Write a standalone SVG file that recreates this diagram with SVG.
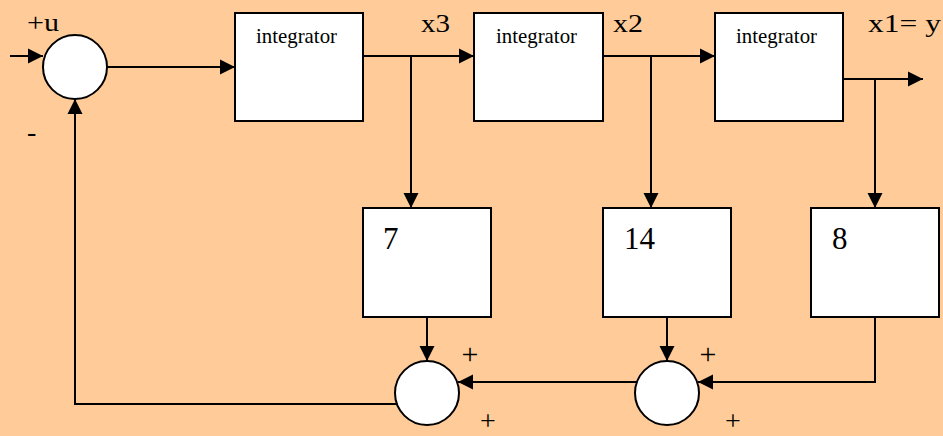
<svg xmlns="http://www.w3.org/2000/svg" width="943" height="436" viewBox="0 0 943 436">
  <style>
    .blk { fill: #ffffff; stroke: #000000; stroke-width: 2; }
    .sum { fill: #ffffff; stroke: #000000; stroke-width: 2; }
    .wire { fill: none; stroke: #000000; stroke-width: 2; }
    .arr { marker-end: url(#head); }
    text { font-family: "Liberation Serif", "Times New Roman", serif; fill: #000000; }
    .lbl { font-size: 21px; }
    .sig { font-size: 25px; }
    .gain { font-size: 31px; }
    .sign { font-size: 30px; text-anchor: middle; }
    .sign-low { font-size: 28px; text-anchor: middle; }
  </style>
  <defs>
    <marker id="head" markerUnits="userSpaceOnUse" markerWidth="16" markerHeight="16" viewBox="0 0 16 16" refX="15" refY="8" orient="auto">
      <path d="M0,0.5 L15,8 L0,15.5 Z" fill="#000000"/>
    </marker>
  </defs>

  <rect x="0" y="0" width="943" height="436" fill="#ffcc99"/>

  <!-- signal lines -->
  <g id="connectors">
    <path class="wire arr" d="M10,56 H43"/>
    <path class="wire arr" d="M107,67 H235"/>
    <path class="wire arr" d="M363,56 H474"/>
    <path class="wire arr" d="M411,56 V208"/>
    <path class="wire arr" d="M603,56 H715"/>
    <path class="wire arr" d="M651,56 V208"/>
    <path class="wire arr" d="M843,79 H923"/>
    <path class="wire arr" d="M875,79 V208"/>
    <path class="wire arr" d="M427,317 V361"/>
    <path class="wire arr" d="M667,317 V361"/>
    <path class="wire arr" d="M875,317 V382 H698"/>
    <path class="wire arr" d="M637,382 H458"/>
    <path class="wire arr" d="M397,404 H75 V99"/>
  </g>

  <!-- input summing junction -->
  <g id="sum-in">
    <circle class="sum" cx="75" cy="67" r="32"/>
    <text class="sig" x="27" y="31" textLength="32" lengthAdjust="spacingAndGlyphs">+u</text>
    <text x="27" y="141" style="font-size:28px">-</text>
  </g>

  <!-- integrator chain -->
  <g id="int1">
    <rect class="blk" x="235" y="13" width="128" height="108"/>
    <text class="lbl" x="256" y="43" textLength="81" lengthAdjust="spacingAndGlyphs">integrator</text>
  </g>
  <g id="int2">
    <rect class="blk" x="474" y="13" width="129" height="108"/>
    <text class="lbl" x="496" y="43" textLength="81" lengthAdjust="spacingAndGlyphs">integrator</text>
  </g>
  <g id="int3">
    <rect class="blk" x="715" y="13" width="128" height="108"/>
    <text class="lbl" x="736" y="43" textLength="81" lengthAdjust="spacingAndGlyphs">integrator</text>
  </g>

  <!-- state labels -->
  <g id="state-labels">
    <text class="sig" x="421" y="32" textLength="29" lengthAdjust="spacingAndGlyphs">x3</text>
    <text class="sig" x="613" y="32" textLength="30" lengthAdjust="spacingAndGlyphs">x2</text>
    <text class="sig" x="868" y="32" textLength="73" lengthAdjust="spacingAndGlyphs">x1= y</text>
  </g>

  <!-- feedback gains -->
  <g id="gain7">
    <rect class="blk" x="363" y="208" width="128" height="109"/>
    <text class="gain" x="383" y="249">7</text>
  </g>
  <g id="gain14">
    <rect class="blk" x="603" y="208" width="128" height="109"/>
    <text class="gain" x="624" y="249">14</text>
  </g>
  <g id="gain8">
    <rect class="blk" x="811" y="208" width="128" height="109"/>
    <text class="gain" x="832" y="249">8</text>
  </g>

  <!-- feedback summing junctions -->
  <g id="sum-left">
    <circle class="sum" cx="427" cy="393" r="32"/>
    <text class="sign" x="470" y="364">+</text>
    <text class="sign-low" x="488" y="430">+</text>
  </g>
  <g id="sum-right">
    <circle class="sum" cx="667" cy="393" r="32"/>
    <text class="sign" x="708" y="364">+</text>
    <text class="sign-low" x="733" y="430">+</text>
  </g>
</svg>
